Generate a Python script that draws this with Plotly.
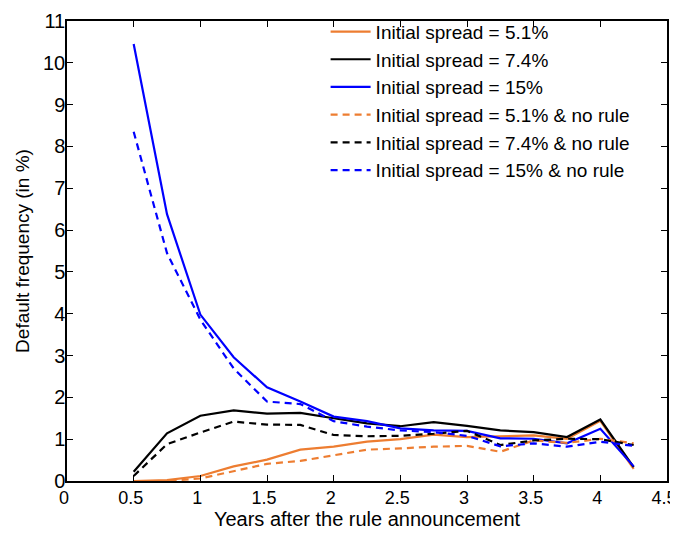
import plotly.graph_objects as go

years = [0.5, 0.75, 1.0, 1.25, 1.5, 1.75, 2.0, 2.25, 2.5, 2.75, 3.0, 3.25, 3.5, 3.75, 4.0, 4.25]

spread51 = [0.0, 0.02, 0.12, 0.35, 0.51, 0.75, 0.82, 0.94, 1.0, 1.11, 1.05, 1.07, 1.09, 1.01, 1.44, 0.29]
spread74 = [0.22, 1.14, 1.56, 1.69, 1.61, 1.63, 1.5, 1.38, 1.31, 1.41, 1.32, 1.21, 1.17, 1.05, 1.47, 0.33]
spread15 = [10.45, 6.38, 3.98, 2.96, 2.24, 1.9, 1.54, 1.43, 1.26, 1.21, 1.2, 1.02, 1.01, 0.9, 1.25, 0.35]
spread51_norule = [0.0, 0.0, 0.06, 0.24, 0.41, 0.48, 0.62, 0.75, 0.78, 0.82, 0.84, 0.7, 0.97, 0.91, 1.01, 0.9]
spread74_norule = [0.12, 0.88, 1.16, 1.42, 1.35, 1.34, 1.1, 1.07, 1.08, 1.13, 1.2, 0.86, 0.97, 1.01, 1.0, 0.86]
spread15_norule = [8.35, 5.45, 3.86, 2.69, 1.9, 1.84, 1.43, 1.3, 1.21, 1.17, 1.08, 0.83, 0.9, 0.82, 0.94, 0.84]

names = [
    "Initial spread = 5.1%",
    "Initial spread = 7.4%",
    "Initial spread = 15%",
    "Initial spread = 5.1% & no rule",
    "Initial spread = 7.4% & no rule",
    "Initial spread = 15% & no rule",
]
series = [spread51, spread74, spread15, spread51_norule, spread74_norule, spread15_norule]
colors = ["#ED7D31", "#000000", "#0000FF", "#ED7D31", "#000000", "#0000FF"]
dashes = ["solid", "solid", "solid", "7px,5px", "7px,5px", "7px,5px"]

fig = go.Figure()
for nm, ys, c, d in zip(names, series, colors, dashes):
    fig.add_trace(go.Scatter(x=years, y=ys, mode="lines", name=nm,
                             line=dict(color=c, width=2.2, dash=d)))

FAM = "Liberation Sans, Arial, sans-serif"
font = dict(family=FAM, size=21, color="#000000")

# page body adds an 8px offset; figure sized to fit inside the 678x534 window
fig.update_layout(
    width=670, height=526,
    margin=dict(l=59, r=11, t=5, b=53),
    paper_bgcolor="white", plot_bgcolor="white",
    font=font,
    showlegend=True,
    legend=dict(x=0.431, y=1.018, xanchor="left", yanchor="top",
                bgcolor="rgba(255,255,255,0)", borderwidth=0,
                font=dict(family=FAM, size=19),
                tracegroupgap=0, itemwidth=40),
    xaxis=dict(range=[0, 4.5], tickmode="array",
               tickvals=[0, 0.5, 1, 1.5, 2, 2.5, 3, 3.5, 4, 4.5],
               ticktext=["0", "0.5", "1", "1.5", "2", "2.5", "3", "3.5", "4", "4.5"],
               ticks="inside", ticklen=6, tickwidth=1, tickcolor="black",
               showline=True, linecolor="black", linewidth=1.5, mirror="ticks",
               showgrid=False, zeroline=False, automargin=False,
               ticklabeloverflow="allow", ticklabelshift=-3,
               tickfont=dict(size=18),
               title=dict(text="Years after the rule announcement", standoff=0,
                          font=dict(size=20))),
    yaxis=dict(range=[0, 11], tickmode="array",
               tickvals=list(range(0, 12)),
               ticks="inside", ticklen=6, tickwidth=1, tickcolor="black",
               showline=True, linecolor="black", linewidth=1.5, mirror="ticks",
               showgrid=False, zeroline=False, automargin=False,
               ticklabelstandoff=-4,
               tickfont=dict(size=20),
               title=dict(text="Default frequency (in %)", standoff=8,
                          font=dict(size=19))),
)

fig.write_html("out.html")
